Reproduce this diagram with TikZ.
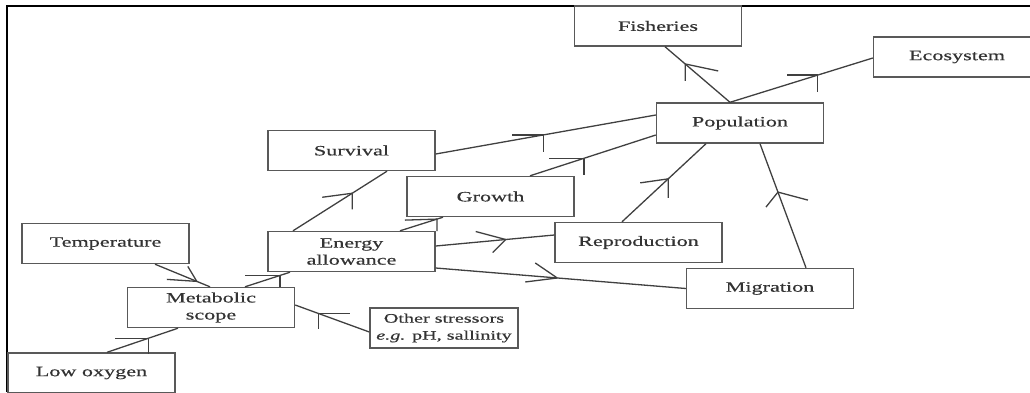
\documentclass[tikz,border=0pt]{standalone}
\usepackage{fontspec}
\setmainfont{Liberation Serif}[FakeStretch=1.55,FakeBold=0.5]
\tikzset{
  box/.style={draw=black!65, line width=1.4pt, minimum width=167pt, minimum height=40pt,
    inner sep=0pt, align=center, text=black!80, font=\fontsize{14.3pt}{17pt}\selectfont},
  link/.style={black!75, line width=1.3pt},
}
\begin{document}
\begin{tikzpicture}[x=1pt,y=-1pt]
  \useasboundingbox (0,0) rectangle (1030,392);
  \clip (0,0) rectangle (1030,392);
  \draw[line width=1.6pt] (7,392) -- (7,6) -- (1030,6);
  % boxes
  \node[box] (fish) at (658,26) {Fisheries};
  \node[box] (eco) at (957,57) {Ecosystem};
  \node[box] (pop) at (740,123) {Population};
  \node[box] (surv) at (351.5,150.5) {Survival};
  \node[box] (grow) at (490.5,196.5) {Growth};
  \node[box] (energy) at (351.5,251.5) {Energy\\allowance};
  \node[box] (repro) at (638.5,242.5) {Reproduction};
  \node[box] (migr) at (770,288.5) {Migration};
  \node[box] (temp) at (105.5,243.5) {Temperature};
  \node[box] (meta) at (211,307.5) {Metabolic\\scope};
  \node[box] (lowox) at (91.5,373) {Low oxygen};
  \node[box, minimum width=148pt, font=\fontsize{13pt}{17pt}\selectfont] (other) at (444,328) {Other stressors\\\textit{e.g.} pH, sallinity};
  % connectors with their barbs
  \draw[link] ([xshift=15.5pt]lowox.north) -- coordinate[pos=.58] (a1) ([xshift=-33pt]meta.south);
  \draw[link] (a1) -- ++(-33,0) (a1) -- ++(0,16);
  \draw[link] ([xshift=49.5pt]temp.south) -- coordinate[pos=.76] (a2) ([xshift=-1pt]meta.north);
  \draw[link] (a2) -- ++(-30,-2) (a2) -- ++(-9,-15);
  \draw[link] ([xshift=34pt]meta.north) -- coordinate[pos=.78] (a3) ([xshift=-61.5pt]energy.south);
  \draw[link] (a3) -- ++(-35,0) (a3) -- ++(0,12);
  \draw[link] ([xshift=-58.5pt]energy.north) -- coordinate[pos=.63] (a4) ([xshift=35.5pt]surv.south);
  \draw[link] (a4) -- ++(-30,4) (a4) -- ++(0,16);
  \draw[link] ([xshift=48.5pt]energy.north) -- coordinate[pos=.86] (a5) ([xshift=-47.5pt]grow.south);
  \draw[link] (a5) -- ++(-32,1) (a5) -- ++(0,12);
  \draw[link] ([yshift=-3.5pt]surv.east) -- coordinate[pos=.49] (a6) ([yshift=8pt]pop.west);
  \draw[link] (a6) -- ++(-32,0) (a6) -- ++(0,17);
  \draw[link] ([xshift=39.5pt]grow.north) -- coordinate[pos=.43] (a7) ([yshift=-12pt]pop.west);
  \draw[link] (a7) -- ++(-35,0) (a7) -- ++(0,17);
  \draw[link] ([yshift=5.5pt]energy.east) -- coordinate[pos=.59] (a8) ([yshift=7.5pt]repro.west);
  \draw[link] (a8) -- ++(-30,-8) (a8) -- ++(-13,13);
  \draw[link] ([yshift=-16.5pt]energy.east) -- coordinate[pos=.486] (a9) (migr.west);
  \draw[link] (a9) -- ++(-22,-15) (a9) -- ++(-32,4);
  \draw[link] ([xshift=-16.5pt]repro.north) -- coordinate[pos=.55] (a10) ([xshift=-34pt]pop.south);
  \draw[link] (a10) -- ++(-28,4) (a10) -- ++(0,19);
  \draw[link] ([xshift=36pt]migr.north) -- coordinate[pos=.61] (a11) ([xshift=20pt]pop.south);
  \draw[link] (a11) -- ++(-12,15) (a11) -- ++(30,8);
  \draw[link] ([xshift=-10pt]pop.north) -- coordinate[pos=.69] (a12) ([xshift=7pt]fish.south);
  \draw[link] (a12) -- ++(0,17) (a12) -- ++(33,7);
  \draw[link] ([xshift=-10pt]pop.north) -- coordinate[pos=.615] (a13) ([yshift=-1pt]eco.west);
  \draw[link] (a13) -- ++(-31,0) (a13) -- ++(0,17);
  \draw[link] ([yshift=-4pt]other.west) -- coordinate[pos=.69] (a14) ([yshift=2.5pt]meta.east);
  \draw[link] (a14) -- ++(32,0) (a14) -- ++(0,16);
\end{tikzpicture}
\end{document}
